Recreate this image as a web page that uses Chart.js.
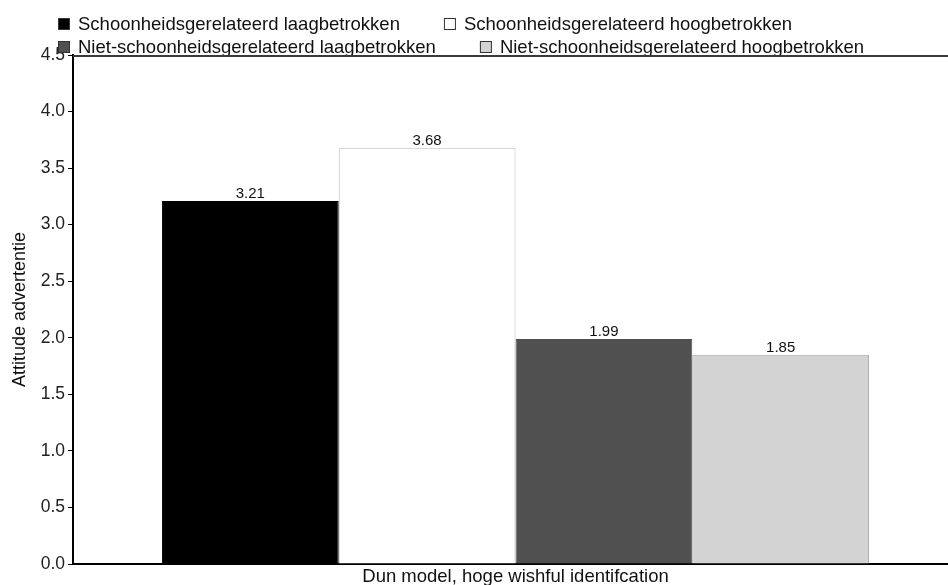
<!DOCTYPE html>
<html>
<head>
<meta charset="utf-8">
<script src="https://cdn.jsdelivr.net/npm/chart.js@4.4.1/dist/chart.umd.min.js"></script>
<style>
  html, body { margin: 0; padding: 0; background: #fff; overflow: hidden; }
  #wrap { position: relative; width: 958px; height: 585px; }
</style>
</head>
<body>
<div id="wrap"><canvas id="chart"></canvas></div>
<script>
// Chart data
const categories = ['Dun model, hoge wishful identifcation'];
const seriesNames = [
  'Schoonheidsgerelateerd laagbetrokken',
  'Schoonheidsgerelateerd hoogbetrokken',
  'Niet-schoonheidsgerelateerd laagbetrokken',
  'Niet-schoonheidsgerelateerd hoogbetrokken'
];
const schoonLaag = [3.21];
const schoonHoog = [3.68];
const nietSchoonLaag = [1.99];
const nietSchoonHoog = [1.85];
const yMin = 0;
const yMax = 4.5;
const yStep = 0.5;

const FONT = '"Liberation Sans", Arial, Helvetica, sans-serif';
Chart.defaults.font.family = FONT;
Chart.defaults.color = '#222';

const fills = ['#000000', '#ffffff', '#505050', '#d3d3d3'];
const borders = ['#000000', '#bdbdbd', '#505050', '#a8a8a8'];
const seriesData = [schoonLaag, schoonHoog, nietSchoonLaag, nietSchoonHoog];

// Legend in two flowing rows, drawn at the top left
const legendPlugin = {
  id: 'flowLegend',
  afterDraw(chart) {
    const ctx = chart.ctx;
    const rows = [[0, 1], [2, 3]];
    const rowTop = [18, 41];
    const box = 12;
    ctx.save();
    ctx.font = '18.5px ' + FONT;
    ctx.textBaseline = 'alphabetic';
    ctx.textAlign = 'left';
    rows.forEach((items, r) => {
      let x = 58;
      const y = rowTop[r];
      items.forEach(i => {
        const ds = chart.data.datasets[i];
        ctx.fillStyle = ds.backgroundColor;
        ctx.fillRect(x, y, box, box);
        ctx.strokeStyle = '#333';
        ctx.lineWidth = 1;
        ctx.strokeRect(x + 0.5, y + 0.5, box - 1, box - 1);
        ctx.fillStyle = '#111';
        ctx.fillText(ds.label, x + 20, y + box);
        x += 20 + ctx.measureText(ds.label).width + 44;
      });
    });
    ctx.restore();
  }
};

// Top edge of the plot frame
const frameTopPlugin = {
  id: 'frameTop',
  afterDraw(chart) {
    const { ctx, chartArea } = chart;
    ctx.save();
    ctx.strokeStyle = '#3a3a3a';
    ctx.lineWidth = 2;
    ctx.beginPath();
    ctx.moveTo(chartArea.left, chartArea.top + 1);
    ctx.lineTo(chartArea.right, chartArea.top + 1);
    ctx.stroke();
    ctx.restore();
  }
};

// Value labels on a white box just above each bar
const valueLabelPlugin = {
  id: 'valueLabels',
  afterDatasetsDraw(chart) {
    const ctx = chart.ctx;
    ctx.save();
    ctx.font = '15px ' + FONT;
    ctx.textAlign = 'center';
    ctx.textBaseline = 'alphabetic';
    chart.data.datasets.forEach((ds, i) => {
      const meta = chart.getDatasetMeta(i);
      meta.data.forEach((bar, j) => {
        const v = ds.data[j];
        const txt = v.toFixed(2);
        const w = ctx.measureText(txt).width;
        const base = bar.y - 2.5;
        ctx.fillStyle = '#ffffff';
        ctx.fillRect(bar.x - w / 2 - 5, base - 13, w + 10, 15.5);
        ctx.fillStyle = '#111';
        ctx.fillText(txt, bar.x, base);
      });
    });
    ctx.restore();
  }
};

new Chart(document.getElementById('chart'), {
  type: 'bar',
  data: {
    labels: categories,
    datasets: seriesNames.map((name, i) => ({
      label: name,
      data: seriesData[i],
      backgroundColor: fills[i],
      borderColor: borders[i],
      borderWidth: 1,
      categoryPercentage: 0.799,
      barPercentage: 1.0
    }))
  },
  options: {
    responsive: true,
    maintainAspectRatio: false,
    animation: false,
    layout: { padding: { top: 55, left: 0, right: 0, bottom: 0 } },
    plugins: {
      legend: { display: false },
      tooltip: { enabled: false }
    },
    scales: {
      x: {
        offset: true,
        grid: { display: true, drawOnChartArea: false, drawTicks: false },
        border: { display: true, color: '#000', width: 2 },
        ticks: { font: { size: 18.5 }, color: '#111', padding: 2 },
        afterFit(scale) { scale.height = 21; }
      },
      y: {
        min: yMin,
        max: yMax,
        grid: { display: true, drawOnChartArea: false, drawTicks: true, tickLength: 5, color: '#000' },
        border: { display: true, color: '#000', width: 2 },
        ticks: {
          stepSize: yStep,
          font: { size: 17.5 },
          color: '#222',
          padding: 3,
          callback: v => Number(v).toFixed(1)
        },
        title: {
          display: true,
          text: 'Attitude advertentie',
          font: { size: 18 },
          color: '#111',
          padding: { top: 9, bottom: 0 }
        },
        afterFit(scale) { scale.width = 73; }
      }
    }
  },
  plugins: [legendPlugin, frameTopPlugin, valueLabelPlugin]
});
</script>
</body>
</html>
